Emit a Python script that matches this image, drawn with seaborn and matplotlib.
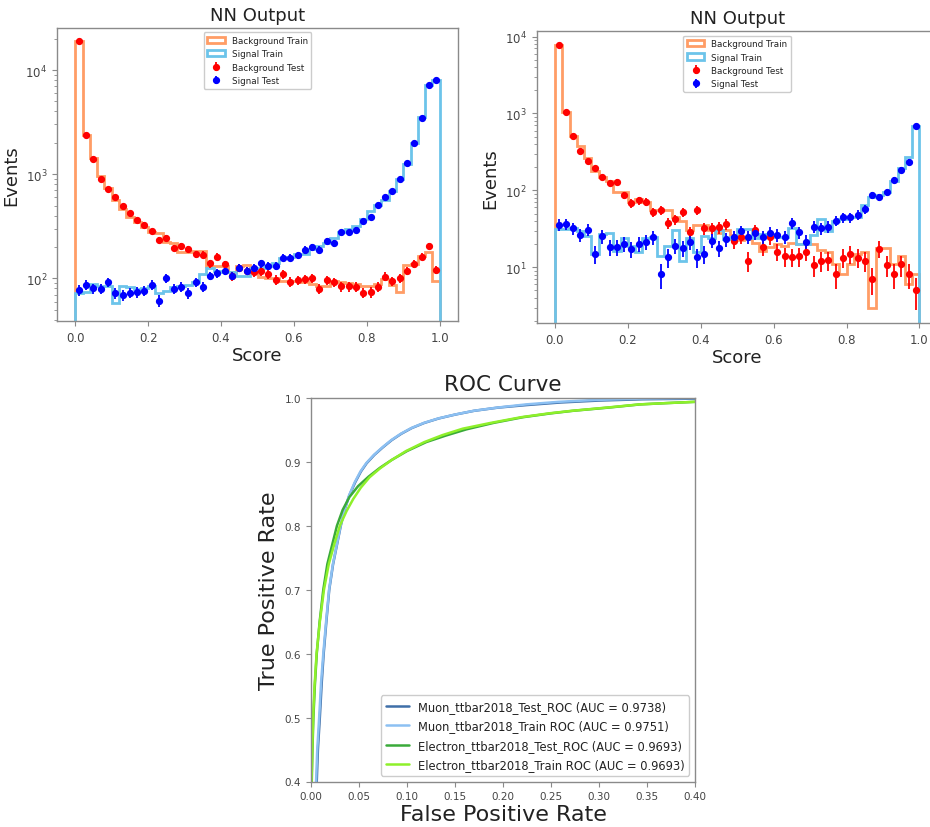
import numpy as np
import matplotlib
matplotlib.use("Agg")
import matplotlib.pyplot as plt
import seaborn as sns

# ---------------- data ----------------
bin_edges = np.linspace(0.0, 1.0, 51)
bin_centers = 0.5 * (bin_edges[:-1] + bin_edges[1:])

# top-left panel
bkg_train_1 = [18900, 2390, 1420, 970, 735, 570, 465, 385, 350, 310,
               277, 270, 222, 217, 178, 178, 185, 182, 132, 132,
               132, 114, 132, 135, 116, 102, 100, 100, 95, 95,
               95, 92, 88, 85, 84, 95, 92, 90, 88, 85,
               84, 88, 98, 86, 74, 134, 137, 165, 178, 95]
sig_train_1 = [72, 74, 88, 84, 84, 58, 84, 82, 79, 80,
               85, 72, 76, 82, 85, 86, 92, 110, 125, 118,
               114, 116, 106, 106, 125, 125, 132, 142, 157, 160,
               172, 172, 192, 206, 217, 242, 277, 298, 320, 371,
               443, 507, 567, 687, 900, 1240, 1985, 3530, 7130, 7960]
bkg_test_1 = [18900, 2390, 1390, 900, 722, 601, 496, 425, 361, 326,
              283, 235, 246, 197, 203, 192, 170, 169, 139, 162,
              136, 105, 127, 118, 114, 117, 109, 97, 109, 93,
              96, 98, 101, 79, 96, 92, 84, 84, 83, 73,
              74, 83, 104, 94, 100, 118, 137, 162, 205, 120]
sig_test_1 = [77, 87, 80, 79, 92, 72, 69, 73, 74, 76,
              87, 61, 100, 79, 83, 72, 92, 83, 106, 112,
              118, 106, 127, 118, 127, 139, 132, 132, 158, 158,
              168, 189, 199, 189, 227, 217, 277, 277, 292, 353,
              389, 507, 601, 692, 900, 1285, 1985, 3480, 7130, 7960]

# top-right panel
bkg_train_2 = [7870, 1040, 515, 380, 262, 178, 148, 134, 94, 96,
               70, 77, 70, 55, 55, 56, 45, 40, 31, 35,
               35, 31, 28, 31, 26, 23, 23.5, 21, 16.5, 18.2,
               20, 19, 21, 20, 20, 20, 17, 16, 11, 8.2,
               11, 15, 15.6, 3.0, 18, 18, 11, 14, 6.1, 8.2]
sig_train_2 = [31.5, 31.5, 32, 30, 25.3, 14.9, 27, 28, 16.5, 23.8,
               19, 16, 23.8, 25, 14.1, 19, 31, 12.2, 24, 16,
               25.3, 23.8, 31, 23.4, 25, 31.5, 31.5, 23.8, 27, 27,
               25, 25, 32, 20, 20, 26.3, 42.5, 30, 40.5, 42.5,
               44.7, 44.7, 64.8, 81, 87, 96, 134, 194, 270, 695]
bkg_test_2 = [7870, 1040, 511, 322, 241, 194, 148, 124, 130, 86,
              68, 74, 71, 52, 55, 38, 42, 52, 28.5, 55,
              32, 32, 33, 37, 22, 25, 12.2, 30.5, 18.2, 24.5,
              16, 13.9, 13.8, 13.9, 16, 10.8, 12.2, 12.5, 8.1, 13.4,
              14.9, 13.4, 12.2, 7.05, 17.5, 10.8, 8.1, 10.9, 8.1, 5.0]
sig_test_2 = [35.9, 36.6, 32, 26.3, 30.9, 14.9, 25.3, 18.2, 18.2, 20.1,
              17.3, 20.1, 21.6, 24.6, 8.1, 13.5, 19.1, 17.7, 21.6, 13.5,
              14.9, 22.3, 17.7, 23.4, 25, 29.4, 25, 27.7, 25, 27.7,
              26.6, 25, 37.3, 28.5, 21.6, 33.8, 32.1, 33.8, 40.5, 44.7,
              44.7, 48, 57.4, 87.3, 81.3, 94.4, 138, 186, 237, 695]

# ROC curves
muon_test_fpr = [0.0, 0.0055, 0.0072, 0.0092, 0.0112, 0.0132, 0.016, 0.019, 0.023, 0.027,
                 0.031, 0.035, 0.040, 0.046, 0.052, 0.058, 0.066, 0.075, 0.084, 0.094,
                 0.105, 0.118, 0.133, 0.150, 0.170, 0.195, 0.225, 0.260, 0.300, 0.345, 0.40]
muon_test_tpr = [0.0, 0.38, 0.45, 0.50, 0.555, 0.60, 0.65, 0.70, 0.74, 0.77,
                 0.80, 0.825, 0.848, 0.868, 0.885, 0.898, 0.911, 0.923, 0.934, 0.944,
                 0.953, 0.961, 0.968, 0.974, 0.980, 0.985, 0.989, 0.993, 0.996, 0.998, 0.999]
muon_train_fpr = [0.0, 0.0048, 0.0065, 0.0085, 0.0105, 0.0128, 0.0157, 0.0188, 0.0228, 0.0268,
                  0.0308, 0.0348, 0.0398, 0.0455, 0.0515, 0.0575, 0.0655, 0.0745, 0.0835, 0.0935,
                  0.1045, 0.1175, 0.1325, 0.1495, 0.1695, 0.194, 0.224, 0.258, 0.297, 0.342, 0.40]
muon_train_tpr = [0.0, 0.38, 0.45, 0.50, 0.555, 0.60, 0.65, 0.70, 0.74, 0.77,
                  0.80, 0.825, 0.848, 0.868, 0.885, 0.898, 0.911, 0.923, 0.934, 0.944,
                  0.953, 0.961, 0.968, 0.974, 0.980, 0.985, 0.990, 0.994, 0.997, 0.999, 1.0]
ele_test_fpr = [0.0, 0.0008, 0.0015, 0.0025, 0.004, 0.006, 0.009, 0.0128, 0.017, 0.022,
                0.027, 0.033, 0.040, 0.049, 0.060, 0.072, 0.084, 0.100, 0.120, 0.140,
                0.162, 0.190, 0.221, 0.250, 0.273, 0.310, 0.343, 0.370, 0.40]
ele_test_tpr = [0.0, 0.40, 0.45, 0.50, 0.55, 0.60, 0.65, 0.70, 0.74, 0.77,
                0.80, 0.825, 0.845, 0.862, 0.877, 0.891, 0.903, 0.917, 0.931, 0.941,
                0.951, 0.961, 0.970, 0.976, 0.980, 0.985, 0.990, 0.992, 0.994]
ele_train_fpr = [0.0, 0.0006, 0.0013, 0.0022, 0.0037, 0.0058, 0.0092, 0.0135, 0.0185, 0.024,
                 0.030, 0.037, 0.044, 0.052, 0.061, 0.072, 0.084, 0.099, 0.118, 0.137,
                 0.158, 0.187, 0.219, 0.248, 0.272, 0.308, 0.342, 0.370, 0.40]
ele_train_tpr = [0.0, 0.40, 0.45, 0.50, 0.55, 0.60, 0.65, 0.70, 0.74, 0.77,
                 0.80, 0.823, 0.842, 0.860, 0.876, 0.890, 0.903, 0.917, 0.931, 0.942,
                 0.952, 0.961, 0.970, 0.976, 0.980, 0.985, 0.990, 0.992, 0.994]

roc_labels = ["Muon_ttbar2018_Test_ROC (AUC = 0.9738)",
              "Muon_ttbar2018_Train ROC (AUC = 0.9751)",
              "Electron_ttbar2018_Test_ROC (AUC = 0.9693)",
              "Electron_ttbar2018_Train ROC (AUC = 0.9693)"]

# ---------------- style ----------------
sns.set_style("ticks")
plt.rcParams['font.family'] = ['DejaVu Sans']
plt.rcParams.update({
    'axes.edgecolor': '#8a8a8a',
    'axes.linewidth': 1.0,
    'xtick.color': '#8a8a8a',
    'ytick.color': '#8a8a8a',
    'xtick.labelcolor': '#444444',
    'ytick.labelcolor': '#444444',
    'xtick.major.size': 3.5,
    'ytick.major.size': 3.5,
    'xtick.minor.size': 2,
    'ytick.minor.size': 2,
    'xtick.direction': 'out',
    'ytick.direction': 'out',
    'text.color': '#222222',
    'axes.labelcolor': '#222222',
})

c_bkg_train = '#ff9d66'
c_sig_train = '#6cc4ea'

fig = plt.figure(figsize=(9.3, 8.28), dpi=100)

def hist_panel(rect, bkg_tr, sig_tr, bkg_te, sig_te, ylim):
    ax = fig.add_axes(rect)
    ax.set_yscale('log')
    ax.hist(bin_centers, bins=bin_edges, weights=bkg_tr, histtype='step',
            color=c_bkg_train, lw=2, label='Background Train')
    ax.hist(bin_centers, bins=bin_edges, weights=sig_tr, histtype='step',
            color=c_sig_train, lw=2, label='Signal Train')
    bte = np.array(bkg_te, dtype=float)
    ste = np.array(sig_te, dtype=float)
    ax.errorbar(bin_centers, bte, yerr=np.sqrt(bte), fmt='o', color='red',
                ms=4.2, elinewidth=1.3, capsize=0, label='Background Test')
    ax.errorbar(bin_centers, ste, yerr=np.sqrt(ste), fmt='o', color='blue',
                ms=4.2, elinewidth=1.3, capsize=0, label='Signal Test')
    ax.set_xlim(-0.05, 1.05)
    ax.set_ylim(*ylim)
    ax.set_title('NN Output', fontsize=13)
    ax.set_xlabel('Score', fontsize=13, labelpad=2)
    ax.set_ylabel('Events', fontsize=13)
    ax.tick_params(labelsize=8.5)
    ax.legend(loc='upper center', fontsize=6.3, framealpha=1.0)
    return ax

hist_panel([57/930, 1 - 322/828, 401/930, 293/828],
           bkg_train_1, sig_train_1, bkg_test_1, sig_test_1, (39, 25300))
hist_panel([536.7/930, 1 - 324/828, 401/930, 291.7/828],
           bkg_train_2, sig_train_2, bkg_test_2, sig_test_2, (1.89, 11700))

# ROC panel
ax3 = fig.add_axes([311/930, 1 - 782.5/828, 384/930, 383.5/828])
roc_sets = [(muon_test_fpr, muon_test_tpr, '#3f6fa8'),
            (muon_train_fpr, muon_train_tpr, '#8cc0f2'),
            (ele_test_fpr, ele_test_tpr, '#3aaa3a'),
            (ele_train_fpr, ele_train_tpr, '#8ef02a')]
for (fx, ty, col), lab in zip(roc_sets, roc_labels):
    sns.lineplot(x=fx, y=ty, ax=ax3, sort=False, estimator=None,
                 color=col, lw=1.8, label=lab)
ax3.set_xlim(0.0, 0.40)
ax3.set_ylim(0.4, 1.0)
ax3.set_title('ROC Curve', fontsize=15.5)
ax3.set_xlabel('False Positive Rate', fontsize=16, labelpad=2)
ax3.set_ylabel('True Positive Rate', fontsize=16)
ax3.tick_params(labelsize=7.5)
ax3.legend(loc='lower right', fontsize=8.3, framealpha=1.0, labelspacing=0.55)

fig.savefig('out.png', dpi=100)
